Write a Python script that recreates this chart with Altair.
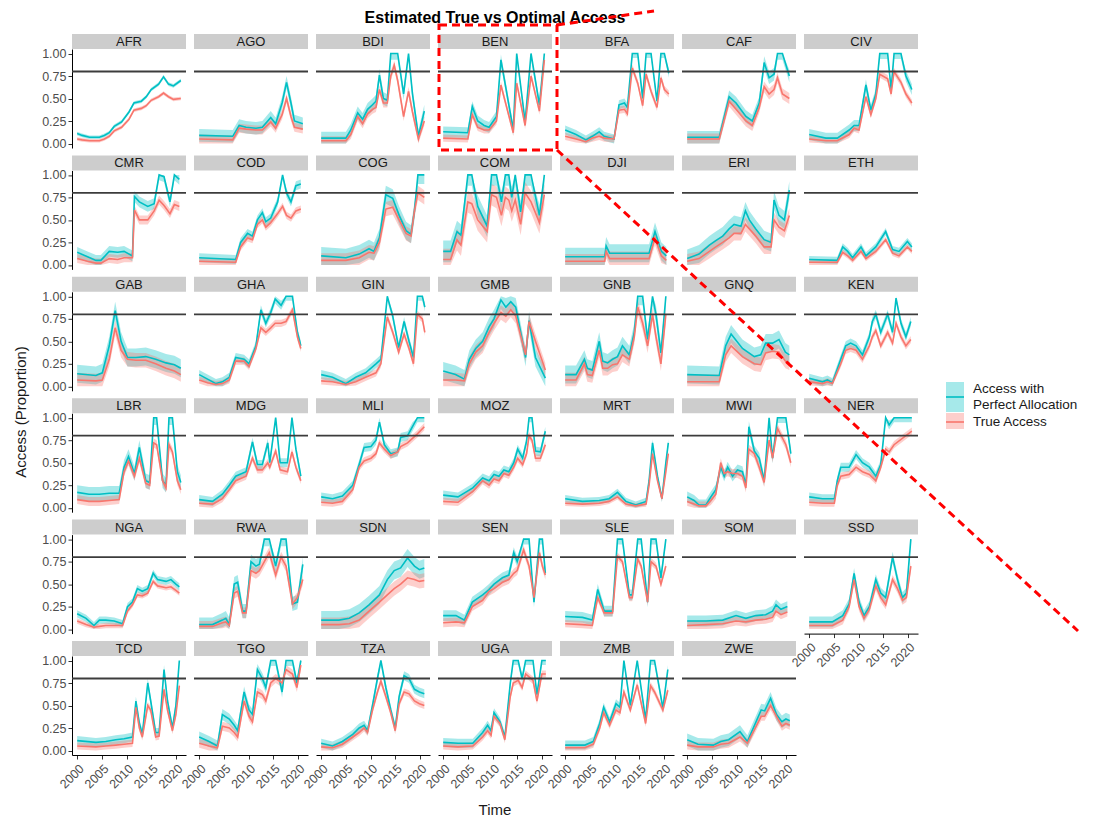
import altair as alt
import pandas as pd

COUNTRIES = ["AFR", "AGO", "BDI", "BEN", "BFA", "CAF", "CIV",
             "CMR", "COD", "COG", "COM", "DJI", "ERI", "ETH",
             "GAB", "GHA", "GIN", "GMB", "GNB", "GNQ", "KEN",
             "LBR", "MDG", "MLI", "MOZ", "MRT", "MWI", "NER",
             "NGA", "RWA", "SDN", "SEN", "SLE", "SOM", "SSD",
             "TCD", "TGO", "TZA", "UGA", "ZMB", "ZWE"]

SERIES = ["Access with Perfect Allocation", "True Access"]
COLORS = ["#00BFC4", "#F8766D"]
YEAR_TICKS = [2000, 2005, 2010, 2015, 2020]
Y_TICKS = [0, 0.25, 0.5, 0.75, 1.0]
TARGET = 0.8

TIME = {
    "AFR": [2000, 2001, 2002.5, 2004.5, 2005.5, 2006.5, 2007.5, 2009, 2010.5, 2011.5, 2013, 2014, 2015, 2016.5, 2017.5, 2018.5, 2019.5, 2021],
    "AGO": [2000, 2006.8, 2008.1, 2009.5, 2011.5, 2012.8, 2014.5, 2015.5, 2016.8, 2017.7, 2018.6, 2019.3, 2021],
    "BDI": [2000, 2005, 2006, 2007.4, 2008.4, 2009.4, 2010.4, 2011.1, 2011.8, 2012.6, 2013.4, 2014.1, 2014.8, 2015.5, 2016.7, 2017.7, 2018.5, 2019.7, 2020.9],
    "BEN": [2000, 2005, 2005.9, 2007, 2008.3, 2009.3, 2010.8, 2011.7, 2014.2, 2014.9, 2016.6, 2017.8, 2019.5, 2020.5],
    "BFA": [2000, 2002.2, 2004.2, 2005.5, 2006.9, 2007.9, 2009.9, 2010.9, 2012, 2012.6, 2013.6, 2014.7, 2015.7, 2016.4, 2017.4, 2018.6, 2019.4, 2020.1, 2021],
    "CAF": [2000, 2006.5, 2008.5, 2009.9, 2011.9, 2013.2, 2014.6, 2015.6, 2016.6, 2017.6, 2018.3, 2019.3, 2020.7],
    "CIV": [2000, 2003.4, 2005.7, 2008.1, 2009.1, 2010.1, 2011.5, 2012.5, 2013.5, 2014.3, 2015.9, 2016.6, 2017.2, 2018.6, 2019.6, 2020.8],
    "CMR": [2000, 2002.1, 2003.8, 2004.8, 2006.5, 2008.2, 2009.5, 2011.2, 2011.6, 2012.6, 2014.3, 2015.6, 2016.6, 2017.6, 2018.8, 2019.7, 2020.7],
    "COD": [2000, 2007.4, 2008.4, 2009.8, 2010.8, 2011.8, 2012.8, 2013.5, 2014.5, 2015.9, 2016.9, 2017.7, 2018.6, 2019.6, 2020.6],
    "COG": [2000, 2005, 2007.7, 2009.7, 2010.7, 2011.8, 2013.1, 2014.5, 2015.8, 2017.2, 2018.2, 2018.9, 2019.6, 2020.9],
    "COM": [2000, 2001.5, 2002.8, 2003.6, 2005.0, 2005.8, 2007, 2008.9, 2009.8, 2010.8, 2011.8, 2012.6, 2013.3, 2013.9, 2014.6, 2015.7, 2016.6, 2017.8, 2019.5, 2020.5],
    "DJI": [2000, 2008, 2008.3, 2009, 2017, 2018.2, 2019.5, 2020.5],
    "ERI": [2000, 2002.4, 2004.5, 2005.8, 2007.2, 2008.5, 2009.5, 2010.9, 2011.8, 2012.6, 2013.9, 2015.6, 2017, 2017.6, 2018.6, 2019.7, 2020.7],
    "ETH": [2000, 2005.7, 2006.8, 2007.8, 2008.8, 2010.5, 2011.5, 2013.5, 2015.5, 2016.9, 2018.2, 2019.9, 2020.8],
    "GAB": [2000, 2003.8, 2005.1, 2006.5, 2007.7, 2008.9, 2010.2, 2011.9, 2013.9, 2015.9, 2018, 2019.7, 2021],
    "GHA": [2000, 2001.7, 2003.4, 2004.7, 2006.1, 2007.4, 2009.1, 2010.1, 2011.5, 2012.5, 2013.5, 2014.5, 2015.4, 2016.6, 2017.6, 2018.9, 2019.9, 2020.6],
    "GIN": [2000, 2002.3, 2005, 2007, 2009, 2011.1, 2012.1, 2013.4, 2014.5, 2015.7, 2016.8, 2017.8, 2018.7, 2019.5, 2020.5, 2021],
    "GMB": [2000, 2002.5, 2004.3, 2005.3, 2006.6, 2008, 2009.3, 2010.3, 2011.7, 2012.7, 2013.7, 2014.7, 2016.7, 2017.4, 2018.7, 2020.7],
    "GNB": [2000, 2002.2, 2003.9, 2004.5, 2005.5, 2006.9, 2007.6, 2008.6, 2009.6, 2010.6, 2011.6, 2013, 2014, 2014.7, 2015.7, 2016.7, 2017.7, 2018.4, 2019.4, 2020.4],
    "GNQ": [2000, 2006.5, 2007.8, 2008.9, 2011.2, 2013.6, 2014.9, 2015.9, 2017.3, 2018.6, 2019.9, 2020.7],
    "KEN": [2000, 2002.7, 2003.7, 2004.7, 2006.4, 2007.4, 2008.4, 2009.5, 2010.8, 2012.2, 2012.8, 2013.5, 2014.5, 2015.9, 2016.9, 2017.6, 2018.6, 2019.6, 2020.6],
    "LBR": [2000, 2002.4, 2004.5, 2006.5, 2008.5, 2009.5, 2010.4, 2011.6, 2012.6, 2013.9, 2014.7, 2015.5, 2016.1, 2017.3, 2018, 2018.6, 2019.3, 2020.3, 2021],
    "MDG": [2000, 2002.7, 2004.7, 2006.1, 2007.4, 2009.5, 2010.8, 2011.8, 2012.8, 2013.9, 2014.3, 2015.5, 2016.4, 2017.9, 2018.8, 2019.6, 2020.6],
    "MLI": [2000, 2002.3, 2004.3, 2006.4, 2007.7, 2008.7, 2010.1, 2011.1, 2011.8, 2012.8, 2014.1, 2015.5, 2016.1, 2017.5, 2018.5, 2019.5, 2020.9],
    "MOZ": [2000, 2003, 2006, 2008, 2009.3, 2010.3, 2011.3, 2012.3, 2013.3, 2014.3, 2015.1, 2016.1, 2016.9, 2017.4, 2018, 2018.7, 2019.7, 2020.7],
    "MRT": [2000, 2003.5, 2006.9, 2008.9, 2010.6, 2012.3, 2014.3, 2016.4, 2017, 2017.7, 2018.7, 2019.6, 2020.4, 2020.9],
    "MWI": [2000, 2001.4, 2002.4, 2003.8, 2004.8, 2005.8, 2006.8, 2007.5, 2008.2, 2009.2, 2010.2, 2011.2, 2011.9, 2012.5, 2013.6, 2014.6, 2015.6, 2016.6, 2017.3, 2018.3, 2020, 2021],
    "NER": [2000, 2002.7, 2005.1, 2005.7, 2006.4, 2008.1, 2009.5, 2010.8, 2012.2, 2013.5, 2014.5, 2015.5, 2016.2, 2017.2, 2020.8],
    "NGA": [2000, 2001.8, 2003.4, 2004.5, 2005.8, 2007.5, 2009.2, 2010.2, 2011.2, 2012.2, 2013.2, 2014.3, 2015.4, 2016.3, 2018, 2019, 2020, 2020.7],
    "RWA": [2000, 2002.7, 2004.7, 2005.4, 2006.1, 2007.1, 2007.8, 2008.8, 2009.5, 2010.5, 2011.5, 2012.2, 2013.2, 2014.2, 2015.5, 2016.6, 2017.6, 2018.9, 2019.9, 2021],
    "SDN": [2000, 2003.6, 2005.7, 2007.7, 2009.7, 2011.8, 2013.4, 2014.8, 2016.1, 2017.5, 2018.9, 2019.9, 2020.9],
    "SEN": [2000, 2002.6, 2004.3, 2005.9, 2008, 2009.3, 2010.3, 2012, 2013.3, 2014.3, 2015, 2016.3, 2017.4, 2018.4, 2019.5, 2020.1, 2020.7],
    "SLE": [2000, 2003.5, 2005.5, 2006.6, 2007.9, 2009.6, 2010.6, 2011.6, 2013, 2013.6, 2014.7, 2015.4, 2016.7, 2017.4, 2018.4, 2019.4, 2020.4],
    "SOM": [2000, 2003.8, 2007.2, 2009.9, 2011.9, 2013.9, 2015.9, 2017.3, 2018, 2019, 2020.3],
    "SSD": [2000, 2004.7, 2006.8, 2008.1, 2009.1, 2010.1, 2011.1, 2012.2, 2013.5, 2014.5, 2015.5, 2016.9, 2017.9, 2018.9, 2019.7, 2020.6],
    "TCD": [2000, 2003.8, 2005.8, 2007.8, 2009.5, 2011.2, 2011.9, 2012.6, 2013.2, 2014.3, 2014.9, 2015.9, 2016.6, 2017.6, 2018.3, 2019.3, 2020, 2020.7],
    "TGO": [2000, 2002, 2003.7, 2004.7, 2006.1, 2007.1, 2007.8, 2009.1, 2010.1, 2010.8, 2011.8, 2012.8, 2013.5, 2014.5, 2015.5, 2016.8, 2017.6, 2018.9, 2019.8, 2020.6],
    "TZA": [2000, 2002.3, 2004.3, 2006.4, 2007.7, 2008.7, 2009.4, 2010.4, 2011.4, 2012.1, 2013.1, 2014.1, 2015, 2015.8, 2016.8, 2017.8, 2018.9, 2019.9, 2020.9],
    "UGA": [2000, 2003, 2006, 2008, 2009, 2009.7, 2010.3, 2011.5, 2012.5, 2013.6, 2014.2, 2015.2, 2016, 2016.7, 2018.2, 2019, 2020, 2020.8],
    "ZMB": [2000, 2004, 2005.7, 2007, 2007.8, 2009, 2010.3, 2011.1, 2011.9, 2013.2, 2014.6, 2016.3, 2017.3, 2018.1, 2019.8, 2020.8],
    "ZWE": [2000, 2002.2, 2005.3, 2006.8, 2008.4, 2010.7, 2012.2, 2013.8, 2015, 2015.7, 2016.9, 2018.1, 2019.2, 2020, 2020.8],
}

PERFECT = {
    "AFR": [0.11, 0.09, 0.07, 0.07, 0.09, 0.12, 0.19, 0.24, 0.35, 0.45, 0.47, 0.52, 0.60, 0.66, 0.74, 0.66, 0.64, 0.70],
    "AGO": [0.09, 0.08, 0.20, 0.18, 0.17, 0.18, 0.29, 0.22, 0.45, 0.68, 0.45, 0.25, 0.22],
    "BDI": [0.06, 0.06, 0.15, 0.34, 0.27, 0.38, 0.43, 0.47, 0.76, 0.50, 0.48, 1.0, 1.0, 1.0, 0.55, 1.0, 0.55, 0.08, 0.36],
    "BEN": [0.13, 0.12, 0.41, 0.25, 0.20, 0.18, 0.30, 0.93, 0.15, 1.0, 0.24, 1.0, 0.43, 1.0],
    "BFA": [0.15, 0.10, 0.04, 0.08, 0.13, 0.08, 0.05, 0.43, 0.45, 0.40, 1.0, 1.0, 0.50, 1.0, 1.0, 0.47, 1.0, 1.0, 0.78],
    "CAF": [0.07, 0.07, 0.52, 0.45, 0.30, 0.25, 0.45, 0.90, 0.73, 0.77, 1.0, 1.0, 0.75],
    "CIV": [0.10, 0.06, 0.06, 0.15, 0.20, 0.20, 0.65, 0.37, 0.55, 1.0, 1.0, 0.60, 1.0, 1.0, 0.75, 0.60],
    "CMR": [0.14, 0.09, 0.05, 0.05, 0.15, 0.14, 0.15, 0.10, 0.76, 0.70, 0.65, 0.68, 1.0, 0.98, 0.70, 1.0, 0.95],
    "COD": [0.08, 0.06, 0.25, 0.35, 0.32, 0.50, 0.58, 0.48, 0.52, 0.70, 1.0, 0.80, 0.70, 0.88, 0.90],
    "COG": [0.10, 0.08, 0.12, 0.18, 0.15, 0.30, 0.78, 0.74, 0.55, 0.38, 0.34, 0.60, 1.0, 1.0],
    "COM": [0.15, 0.15, 0.37, 0.33, 1.0, 1.0, 0.65, 0.43, 1.0, 1.0, 0.70, 1.0, 1.0, 0.75, 1.0, 0.59, 1.0, 1.0, 0.55, 1.0],
    "DJI": [0.09, 0.09, 0.21, 0.13, 0.13, 0.37, 0.15, 0.10],
    "ERI": [0.07, 0.12, 0.22, 0.27, 0.32, 0.40, 0.45, 0.43, 0.60, 0.50, 0.40, 0.28, 0.25, 0.72, 0.55, 0.50, 0.83],
    "ETH": [0.06, 0.05, 0.20, 0.15, 0.08, 0.20, 0.10, 0.20, 0.37, 0.17, 0.15, 0.26, 0.20],
    "GAB": [0.14, 0.12, 0.15, 0.45, 0.84, 0.50, 0.32, 0.32, 0.33, 0.30, 0.26, 0.24, 0.20],
    "GHA": [0.13, 0.08, 0.03, 0.05, 0.10, 0.32, 0.30, 0.25, 0.45, 0.85, 0.70, 0.82, 0.97, 0.90, 1.0, 1.0, 0.60, 0.45],
    "GIN": [0.13, 0.10, 0.03, 0.10, 0.15, 0.25, 0.30, 1.0, 0.78, 0.43, 0.72, 0.50, 0.32, 1.0, 1.0, 0.88],
    "GMB": [0.17, 0.13, 0.08, 0.30, 0.42, 0.50, 0.66, 0.75, 0.96, 0.88, 0.94, 0.88, 0.32, 0.73, 0.32, 0.09],
    "GNB": [0.13, 0.13, 0.30, 0.20, 0.18, 0.50, 0.28, 0.26, 0.30, 0.33, 0.45, 0.35, 0.60, 1.0, 1.0, 0.52, 1.0, 0.80, 0.37, 1.0],
    "GNQ": [0.13, 0.12, 0.45, 0.58, 0.42, 0.33, 0.35, 0.48, 0.48, 0.52, 0.38, 0.35],
    "KEN": [0.09, 0.05, 0.07, 0.04, 0.30, 0.45, 0.48, 0.45, 0.35, 0.55, 0.72, 0.80, 0.60, 0.80, 0.60, 0.98, 0.70, 0.55, 0.72],
    "LBR": [0.17, 0.15, 0.15, 0.16, 0.16, 0.45, 0.57, 0.38, 0.67, 0.30, 0.28, 1.0, 1.0, 0.30, 0.25, 1.0, 1.0, 0.40, 0.28],
    "MDG": [0.09, 0.07, 0.15, 0.25, 0.35, 0.40, 0.73, 0.48, 0.48, 0.72, 0.50, 1.0, 0.50, 0.50, 1.0, 0.65, 0.35],
    "MLI": [0.12, 0.10, 0.13, 0.25, 0.48, 0.67, 0.68, 0.75, 0.95, 0.70, 0.60, 0.62, 0.78, 0.80, 0.90, 1.0, 1.0],
    "MOZ": [0.14, 0.12, 0.22, 0.33, 0.30, 0.37, 0.35, 0.42, 0.40, 0.50, 0.65, 0.55, 0.74, 1.0, 1.0, 0.63, 0.62, 0.85],
    "MRT": [0.10, 0.07, 0.08, 0.10, 0.17, 0.07, 0.03, 0.07, 0.30, 0.72, 0.35, 0.10, 0.50, 0.72],
    "MWI": [0.12, 0.08, 0.03, 0.03, 0.12, 0.20, 0.45, 0.35, 0.45, 0.35, 0.42, 0.40, 0.25, 0.90, 0.63, 0.55, 0.30, 1.0, 0.55, 1.0, 1.0, 0.60],
    "NER": [0.12, 0.10, 0.10, 0.30, 0.45, 0.45, 0.59, 0.50, 0.45, 0.35, 0.48, 1.0, 0.92, 1.0, 1.0],
    "NGA": [0.17, 0.12, 0.04, 0.10, 0.10, 0.09, 0.06, 0.25, 0.30, 0.45, 0.42, 0.45, 0.62, 0.55, 0.53, 0.55, 0.50, 0.47],
    "RWA": [0.05, 0.05, 0.10, 0.12, 0.05, 0.50, 0.52, 0.20, 0.20, 0.75, 0.70, 0.72, 1.0, 1.0, 0.70, 1.0, 1.0, 0.28, 0.30, 0.72],
    "SDN": [0.10, 0.10, 0.12, 0.18, 0.27, 0.38, 0.55, 0.65, 0.68, 0.79, 0.70, 0.66, 0.68],
    "SEN": [0.15, 0.15, 0.10, 0.30, 0.38, 0.44, 0.50, 0.57, 0.60, 0.85, 0.75, 1.0, 1.0, 0.30, 1.0, 1.0, 0.62],
    "SLE": [0.14, 0.13, 0.10, 0.44, 0.20, 0.20, 1.0, 1.0, 0.38, 0.38, 1.0, 1.0, 0.30, 1.0, 1.0, 0.57, 1.0],
    "SOM": [0.09, 0.09, 0.10, 0.15, 0.12, 0.15, 0.16, 0.20, 0.27, 0.22, 0.25],
    "SSD": [0.08, 0.08, 0.15, 0.28, 0.62, 0.30, 0.15, 0.25, 0.55, 0.40, 0.35, 0.80, 0.55, 0.35, 0.40, 1.0],
    "TCD": [0.11, 0.09, 0.10, 0.12, 0.13, 0.15, 0.55, 0.30, 0.18, 0.75, 0.55, 0.20, 0.20, 0.90, 0.55, 0.25, 0.50, 1.0],
    "TGO": [0.15, 0.10, 0.05, 0.40, 0.35, 0.28, 0.22, 0.65, 0.45, 0.40, 0.90, 0.80, 0.70, 1.0, 1.0, 0.65, 1.0, 1.0, 0.75, 1.0],
    "TZA": [0.08, 0.05, 0.10, 0.18, 0.25, 0.28, 0.22, 0.50, 0.80, 1.0, 0.70, 0.45, 0.25, 0.60, 0.83, 0.80, 0.68, 0.65, 0.63],
    "UGA": [0.09, 0.08, 0.08, 0.20, 0.28, 0.22, 0.42, 0.32, 0.15, 0.75, 1.0, 1.0, 0.80, 1.0, 1.0, 0.62, 1.0, 1.0],
    "ZMB": [0.06, 0.06, 0.10, 0.30, 0.48, 0.32, 0.52, 0.48, 1.0, 0.50, 1.0, 0.34, 1.0, 1.0, 0.47, 0.90],
    "ZWE": [0.12, 0.07, 0.06, 0.10, 0.12, 0.21, 0.10, 0.30, 0.45, 0.44, 0.58, 0.40, 0.32, 0.35, 0.33],
}

TRUE_ACCESS = {
    "AFR": [0.05, 0.04, 0.03, 0.03, 0.05, 0.08, 0.14, 0.18, 0.27, 0.37, 0.39, 0.42, 0.48, 0.52, 0.56, 0.52, 0.49, 0.50],
    "AGO": [0.05, 0.04, 0.17, 0.16, 0.15, 0.15, 0.24, 0.17, 0.32, 0.50, 0.30, 0.18, 0.16],
    "BDI": [0.03, 0.03, 0.10, 0.30, 0.22, 0.33, 0.38, 0.40, 0.60, 0.45, 0.45, 0.75, 0.87, 0.70, 0.30, 0.58, 0.35, 0.05, 0.25],
    "BEN": [0.06, 0.05, 0.32, 0.18, 0.15, 0.15, 0.25, 0.65, 0.12, 0.67, 0.20, 0.75, 0.36, 0.93],
    "BFA": [0.08, 0.05, 0.02, 0.06, 0.08, 0.06, 0.05, 0.37, 0.38, 0.33, 0.84, 0.67, 0.42, 0.77, 0.58, 0.40, 0.73, 0.60, 0.55],
    "CAF": [0.05, 0.05, 0.47, 0.38, 0.25, 0.20, 0.40, 0.63, 0.55, 0.60, 0.73, 0.55, 0.50],
    "CIV": [0.05, 0.03, 0.03, 0.10, 0.17, 0.15, 0.52, 0.32, 0.50, 0.77, 0.72, 0.55, 0.80, 0.68, 0.55, 0.45],
    "CMR": [0.07, 0.04, 0.02, 0.02, 0.07, 0.06, 0.08, 0.08, 0.61, 0.50, 0.50, 0.60, 0.72, 0.66, 0.57, 0.67, 0.65],
    "COD": [0.04, 0.03, 0.20, 0.30, 0.28, 0.45, 0.50, 0.42, 0.47, 0.57, 0.65, 0.55, 0.52, 0.60, 0.62],
    "COG": [0.05, 0.05, 0.08, 0.14, 0.13, 0.25, 0.62, 0.64, 0.50, 0.35, 0.32, 0.60, 0.80, 0.75],
    "COM": [0.06, 0.06, 0.28, 0.22, 0.70, 0.68, 0.50, 0.37, 0.78, 0.75, 0.55, 0.75, 0.72, 0.60, 0.72, 0.45, 0.80, 0.70, 0.47, 0.78],
    "DJI": [0.04, 0.04, 0.15, 0.07, 0.07, 0.30, 0.10, 0.05],
    "ERI": [0.04, 0.07, 0.15, 0.20, 0.25, 0.30, 0.35, 0.35, 0.45, 0.40, 0.32, 0.20, 0.20, 0.50, 0.42, 0.38, 0.55],
    "ETH": [0.03, 0.03, 0.14, 0.10, 0.05, 0.15, 0.07, 0.15, 0.28, 0.13, 0.10, 0.20, 0.15],
    "GAB": [0.07, 0.06, 0.07, 0.30, 0.65, 0.40, 0.30, 0.29, 0.29, 0.25, 0.20, 0.17, 0.13],
    "GHA": [0.07, 0.04, 0.02, 0.03, 0.07, 0.28, 0.28, 0.22, 0.42, 0.65, 0.60, 0.65, 0.70, 0.70, 0.72, 0.85, 0.55, 0.42],
    "GIN": [0.06, 0.05, 0.02, 0.05, 0.10, 0.15, 0.25, 0.77, 0.60, 0.38, 0.58, 0.42, 0.25, 0.80, 0.75, 0.60],
    "GMB": [0.07, 0.07, 0.06, 0.25, 0.38, 0.45, 0.60, 0.70, 0.82, 0.78, 0.85, 0.78, 0.35, 0.72, 0.50, 0.18],
    "GNB": [0.07, 0.07, 0.25, 0.13, 0.12, 0.40, 0.20, 0.20, 0.24, 0.25, 0.35, 0.30, 0.55, 0.88, 0.70, 0.45, 0.80, 0.55, 0.25, 0.80],
    "GNQ": [0.05, 0.05, 0.35, 0.45, 0.33, 0.25, 0.24, 0.37, 0.39, 0.38, 0.28, 0.26],
    "KEN": [0.05, 0.03, 0.05, 0.03, 0.25, 0.40, 0.42, 0.40, 0.30, 0.45, 0.55, 0.62, 0.45, 0.60, 0.48, 0.70, 0.55, 0.45, 0.52],
    "LBR": [0.09, 0.07, 0.07, 0.08, 0.09, 0.40, 0.52, 0.35, 0.55, 0.27, 0.25, 0.72, 0.70, 0.30, 0.22, 0.70, 0.62, 0.30, 0.20],
    "MDG": [0.05, 0.04, 0.10, 0.20, 0.30, 0.35, 0.55, 0.42, 0.42, 0.50, 0.45, 0.63, 0.42, 0.40, 0.62, 0.45, 0.30],
    "MLI": [0.06, 0.05, 0.07, 0.20, 0.45, 0.52, 0.55, 0.60, 0.72, 0.65, 0.58, 0.62, 0.68, 0.72, 0.77, 0.82, 0.90],
    "MOZ": [0.07, 0.06, 0.18, 0.30, 0.25, 0.32, 0.30, 0.38, 0.36, 0.45, 0.55, 0.48, 0.60, 0.80, 0.75, 0.55, 0.55, 0.70],
    "MRT": [0.05, 0.04, 0.05, 0.07, 0.12, 0.04, 0.02, 0.04, 0.25, 0.60, 0.30, 0.10, 0.40, 0.60],
    "MWI": [0.07, 0.04, 0.02, 0.02, 0.08, 0.15, 0.50, 0.38, 0.40, 0.38, 0.38, 0.35, 0.22, 0.65, 0.60, 0.45, 0.28, 0.75, 0.55, 0.88, 0.70, 0.50],
    "NER": [0.06, 0.05, 0.05, 0.25, 0.35, 0.37, 0.45, 0.40, 0.37, 0.30, 0.45, 0.65, 0.62, 0.70, 0.85],
    "NGA": [0.09, 0.05, 0.02, 0.03, 0.04, 0.04, 0.04, 0.20, 0.27, 0.38, 0.37, 0.40, 0.53, 0.48, 0.46, 0.47, 0.43, 0.40],
    "RWA": [0.03, 0.03, 0.07, 0.08, 0.04, 0.40, 0.42, 0.18, 0.18, 0.65, 0.62, 0.65, 0.75, 0.85, 0.60, 0.80, 0.70, 0.28, 0.35, 0.55],
    "SDN": [0.05, 0.05, 0.06, 0.10, 0.20, 0.30, 0.38, 0.45, 0.50, 0.57, 0.55, 0.53, 0.54],
    "SEN": [0.07, 0.08, 0.07, 0.25, 0.32, 0.42, 0.45, 0.52, 0.55, 0.62, 0.65, 0.88, 0.70, 0.35, 0.85, 0.70, 0.60],
    "SLE": [0.06, 0.05, 0.04, 0.35, 0.18, 0.18, 0.81, 0.75, 0.35, 0.35, 0.78, 0.70, 0.30, 0.75, 0.70, 0.50, 0.70],
    "SOM": [0.04, 0.05, 0.06, 0.09, 0.08, 0.10, 0.11, 0.13, 0.20, 0.16, 0.19],
    "SSD": [0.04, 0.04, 0.10, 0.25, 0.55, 0.25, 0.12, 0.22, 0.48, 0.35, 0.27, 0.55, 0.45, 0.32, 0.35, 0.70],
    "TCD": [0.05, 0.04, 0.05, 0.06, 0.07, 0.08, 0.48, 0.25, 0.15, 0.50, 0.45, 0.15, 0.16, 0.68, 0.45, 0.22, 0.40, 0.72],
    "TGO": [0.08, 0.05, 0.03, 0.27, 0.25, 0.20, 0.15, 0.55, 0.38, 0.32, 0.65, 0.62, 0.55, 0.75, 0.80, 0.75, 0.90, 0.85, 0.70, 0.95],
    "TZA": [0.04, 0.03, 0.07, 0.15, 0.20, 0.25, 0.20, 0.45, 0.65, 0.77, 0.60, 0.42, 0.22, 0.52, 0.65, 0.63, 0.55, 0.52, 0.50],
    "UGA": [0.05, 0.04, 0.05, 0.15, 0.22, 0.17, 0.38, 0.30, 0.12, 0.60, 0.75, 0.78, 0.70, 0.85, 0.78, 0.55, 0.85, 0.85],
    "ZMB": [0.03, 0.03, 0.07, 0.25, 0.42, 0.28, 0.45, 0.42, 0.65, 0.45, 0.73, 0.30, 0.72, 0.65, 0.45, 0.67],
    "ZWE": [0.06, 0.04, 0.04, 0.07, 0.08, 0.15, 0.08, 0.25, 0.38, 0.38, 0.50, 0.38, 0.27, 0.30, 0.28],
}

BAND_PERFECT = [0.02, 0.07, 0.07, 0.06, 0.05, 0.07, 0.06,
                0.06, 0.05, 0.10, 0.12, 0.10, 0.10, 0.04,
                0.10, 0.05, 0.05, 0.10, 0.10, 0.10, 0.05,
                0.08, 0.05, 0.05, 0.05, 0.04, 0.06, 0.05,
                0.04, 0.08, 0.10, 0.06, 0.06, 0.06, 0.06,
                0.05, 0.06, 0.05, 0.05, 0.05, 0.07]
BAND_TRUE = [0.02, 0.05, 0.05, 0.04, 0.04, 0.06, 0.04,
             0.05, 0.04, 0.08, 0.12, 0.08, 0.08, 0.03,
             0.08, 0.04, 0.04, 0.08, 0.08, 0.08, 0.04,
             0.05, 0.04, 0.04, 0.04, 0.03, 0.05, 0.04,
             0.03, 0.06, 0.08, 0.05, 0.04, 0.05, 0.05,
             0.04, 0.05, 0.04, 0.04, 0.04, 0.05]

rows = []
for ci, c in enumerate(COUNTRIES):
    for i, (t, p, a) in enumerate(zip(TIME[c], PERFECT[c], TRUE_ACCESS[c])):
        for s, v, b in ((SERIES[0], p, BAND_PERFECT[ci]), (SERIES[1], a, BAND_TRUE[ci])):
            rows.append({"country": c, "t": t, "series": s, "value": v,
                         "lo": max(0.0, v - b), "hi": min(1.0, v + b), "idx": i})
df = pd.DataFrame(rows)

NCOL = 7
NROW = (len(COUNTRIES) + NCOL - 1) // NCOL
W, H = 114, 99
COL_GAP, ROW_GAP = 8, 22.4
FONT = "Liberation Sans"
TXT = "#1a1a1a"

# page position of the first panel; the decorations drawn once (title, axis
# titles, legend, zoom box) live in the last panel and are placed relative to it
ORIGIN = (72, 47)
LAST_R, LAST_C = divmod(len(COUNTRIES) - 1, NCOL)
LAST_ORIGIN = (ORIGIN[0] + LAST_C * (W + COL_GAP), ORIGIN[1] + LAST_R * (H + ROW_GAP))


def rx(px):
    return px - LAST_ORIGIN[0]


def ry(py):
    return py - LAST_ORIGIN[1]


color = alt.Color("series:N", scale=alt.Scale(domain=SERIES, range=COLORS), legend=None)
xscale = alt.Scale(domain=[1998.95, 2022.05], nice=False, zero=False)
yscale = alt.Scale(domain=[-0.05, 1.05], nice=False, zero=False)
xaxis = alt.Axis(values=YEAR_TICKS, format="d", title=None, labelAngle=-45,
                 labelAlign="right", labelBaseline="top", labelFlush=False,
                 labelOverlap=False, labelFontSize=12.5, labelPadding=3, tickSize=4,
                 grid=False)
yaxis = alt.Axis(values=Y_TICKS, format=".2f", title=None, labelFontSize=12.5,
                 labelOverlap=False, labelFlush=False, labelPadding=2, tickSize=4,
                 grid=False)

base = alt.Chart()
one = "datum.idx == 0 && datum.series == 'True Access'"


def deco_text(label, px, py, **kw):
    kw.setdefault("color", TXT)
    return base.mark_text(text=label, font=FONT, **kw).encode(
        x=alt.value(rx(px)), y=alt.value(ry(py))
    ).transform_filter(one)


def deco_rect(x1, y1, x2, y2, **kw):
    return base.mark_rect(**kw).encode(
        x=alt.value(rx(x1)), x2=alt.value(rx(x2)), y=alt.value(ry(y1)), y2=alt.value(ry(y2))
    ).transform_filter(one)


def deco_line(x1, y1, x2, y2, **kw):
    return base.mark_rule(**kw).encode(
        x=alt.value(rx(x1)), x2=alt.value(rx(x2)), y=alt.value(ry(y1)), y2=alt.value(ry(y2))
    ).transform_filter(one)


mid_x = ORIGIN[0] + (NCOL * W + (NCOL - 1) * COL_GAP) / 2
RED = "#FF0000"
DECORATIONS = [
    deco_text("Estimated True vs Optimal Access", mid_x, 16, fontSize=16,
              fontWeight="bold", align="center", baseline="middle", color="#000000"),
    deco_text("Access (Proportion)", 21, 410, fontSize=15, angle=270,
              align="center", baseline="middle"),
    deco_text("Time", mid_x, 808, fontSize=15, align="center", baseline="middle"),
    deco_rect(439, 23, 557, 148, filled=False, stroke=RED, strokeWidth=3, strokeDash=[8, 5]),
    deco_line(557, 148, 1078, 629, color=RED, strokeWidth=3, strokeDash=[8, 5]),
    deco_line(557, 23, 654, 9, color=RED, strokeWidth=3, strokeDash=[8, 5]),
    deco_rect(946, 380, 964, 410, color=COLORS[0], opacity=0.35),
    deco_line(946, 395, 964, 395, color=COLORS[0], strokeWidth=1.6),
    deco_rect(946, 411, 964, 427, color=COLORS[1], opacity=0.35),
    deco_line(946, 420, 964, 420, color=COLORS[1], strokeWidth=1.6),
    deco_text("Access with", 973, 387, fontSize=13.5, align="left", baseline="middle"),
    deco_text("Perfect Allocation", 973, 403, fontSize=13.5, align="left", baseline="middle"),
    deco_text("True Access", 973, 420, fontSize=13.5, align="left", baseline="middle"),
]


def make_panel(k, country):
    r, c = divmod(k, NCOL)
    last_in_column = k + NCOL >= len(COUNTRIES)
    xax = xaxis if last_in_column else None
    yax = yaxis if c == 0 else None
    x = alt.X("t:Q", scale=xscale, axis=xax)
    band = base.mark_area(opacity=0.35).encode(
        x=x, y=alt.Y("lo:Q", scale=yscale, axis=yax), y2="hi:Q", color=color)
    line = base.mark_line(strokeWidth=1.6).encode(
        x=x, y=alt.Y("value:Q", scale=yscale, axis=yax), color=color)
    hline = base.mark_rule(color="#3c3c3c", strokeWidth=1.8).encode(
        y=alt.YDatum(TARGET, scale=yscale, axis=yax)).transform_filter(one)
    strip = base.mark_rect(color="#CDCDCD").encode(
        x=alt.value(0), x2=alt.value(W), y=alt.value(-15), y2=alt.value(0)
    ).transform_filter(one)
    strip_text = base.mark_text(fontSize=13, font=FONT, color=TXT, baseline="middle").encode(
        x=alt.value(W / 2), y=alt.value(-7), text="country:N"
    ).transform_filter(one)
    layers = [band, line, hline, strip, strip_text]
    if (r, c) == (LAST_R, LAST_C):
        layers += DECORATIONS
    return alt.layer(*layers).transform_filter(
        alt.datum.country == country
    ).properties(width=W, height=H)


panels = [make_panel(k, name) for k, name in enumerate(COUNTRIES)]

chart = alt.concat(
    *panels, columns=NCOL, spacing=alt.RowColnumber(row=ROW_GAP, column=COL_GAP),
    bounds="flush", data=df,
).properties(
    padding={"left": 5, "top": 1, "right": 2, "bottom": 2},
).configure_view(stroke="transparent").configure_axis(
    grid=False, domainColor="#000000", tickColor="#333333", labelColor="#4D4D4D",
    labelFont=FONT
)

chart.save("out.html", embed_options={"renderer": "svg", "actions": False})
